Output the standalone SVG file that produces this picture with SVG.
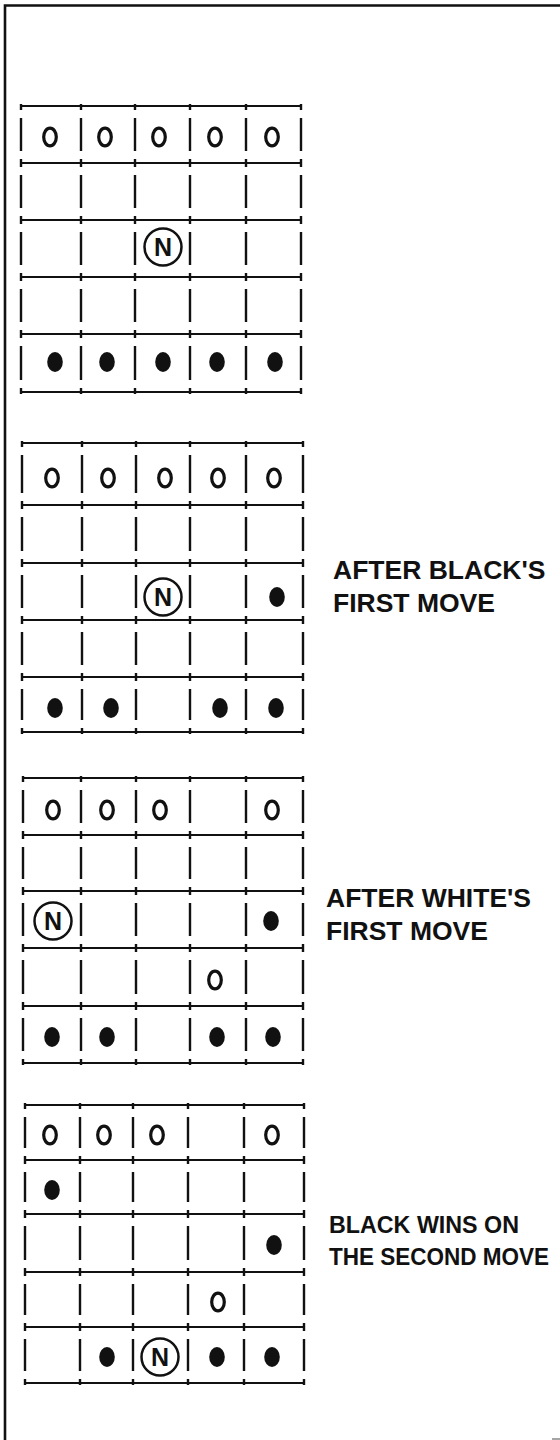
<svg xmlns="http://www.w3.org/2000/svg" xmlns:xlink="http://www.w3.org/1999/xlink" width="560" height="1440" viewBox="0 0 560 1440">
<style>
.frame{stroke:#111;stroke-width:2.6;fill:none}
.h{stroke:#111;stroke-width:2.2;fill:none}
.v{stroke:#111;stroke-width:2.4;fill:none}
.w{fill:none;stroke:#111;stroke-width:3.2}
.b{fill:#111}
.nc{fill:none;stroke:#111;stroke-width:2.5}
.nt{font-family:"Liberation Sans",Arial,sans-serif;font-weight:bold;font-size:25px;fill:#111;text-anchor:middle}
.lbl{font-family:"Liberation Sans",Arial,sans-serif;font-weight:bold;font-size:26.5px;fill:#111}
.lbl2{font-family:"Liberation Sans",Arial,sans-serif;font-weight:bold;font-size:23px;fill:#111}
</style>
<defs>
<path id="v1" class="v" d="M0 104V110M0 118V151M0 159V167M0 175V208M0 216V224M0 232V265M0 273V281M0 289V322M0 330V338M0 346V380M0 388V394"/>
<path id="v2" class="v" d="M0 441V447M0 455V493M0 501V509M0 517V551M0 559V567M0 575V608M0 616V624M0 632V665M0 673V681M0 689V720M0 728V734"/>
<path id="v3" class="v" d="M0 776V782M0 790V823M0 831V839M0 847V879M0 887V895M0 903V936M0 944V952M0 960V994M0 1002V1010M0 1018V1051M0 1059V1065"/>
<path id="v4" class="v" d="M0 1103V1109M0 1117V1148M0 1156V1164M0 1172V1202M0 1210V1218M0 1226V1260M0 1268V1276M0 1284V1315M0 1323V1331M0 1339V1371M0 1379V1385"/>
<ellipse id="wp" class="w" cx="0" cy="0" rx="6.3" ry="8.8"/>
<ellipse id="bp" class="b" cx="0" cy="0" rx="7.8" ry="10"/>
</defs>
<g id="frame">
<path class="frame" d="M5 1440V5.5H560"/>
<path d="M552 1439H560" stroke="#888" stroke-width="1.5"/>
</g>
<g id="board1">
<path class="h" d="M20 106H302M20 163H302M20 220H302M20 277H302M20 334H302M20 392H302"/>
<use xlink:href="#v1" x="21"/><use xlink:href="#v1" x="81"/><use xlink:href="#v1" x="135"/><use xlink:href="#v1" x="190"/><use xlink:href="#v1" x="246"/><use xlink:href="#v1" x="301"/>
<use xlink:href="#wp" x="50" y="137"/><use xlink:href="#wp" x="105" y="137"/><use xlink:href="#wp" x="159" y="137"/><use xlink:href="#wp" x="215" y="137"/><use xlink:href="#wp" x="272" y="137"/>
<circle class="nc" cx="163" cy="247" r="18.5"/><text class="nt" x="163" y="256">N</text>
<use xlink:href="#bp" x="55" y="362"/><use xlink:href="#bp" x="107" y="362"/><use xlink:href="#bp" x="163" y="362"/><use xlink:href="#bp" x="217" y="362"/><use xlink:href="#bp" x="275" y="362"/>
</g>
<g id="board2">
<path class="h" d="M21 443H304M21 505H304M21 563H304M21 620H304M21 677H304M21 732H304"/>
<use xlink:href="#v2" x="22"/><use xlink:href="#v2" x="82"/><use xlink:href="#v2" x="136"/><use xlink:href="#v2" x="190"/><use xlink:href="#v2" x="246"/><use xlink:href="#v2" x="303"/>
<use xlink:href="#wp" x="52" y="478"/><use xlink:href="#wp" x="108" y="478"/><use xlink:href="#wp" x="165" y="478"/><use xlink:href="#wp" x="218" y="478"/><use xlink:href="#wp" x="274" y="478"/>
<circle class="nc" cx="163" cy="597" r="18.5"/><text class="nt" x="163" y="606">N</text>
<use xlink:href="#bp" x="277" y="597"/>
<use xlink:href="#bp" x="55" y="708"/><use xlink:href="#bp" x="111" y="708"/><use xlink:href="#bp" x="220" y="708"/><use xlink:href="#bp" x="276" y="708"/>
</g>
<g id="label2">
<text class="lbl" x="333" y="579">AFTER BLACK'S</text>
<text class="lbl" x="333" y="612">FIRST MOVE</text>
</g>
<g id="board3">
<path class="h" d="M22 778H304M22 835H304M22 891H304M22 948H304M22 1006H304M22 1063H304"/>
<use xlink:href="#v3" x="23"/><use xlink:href="#v3" x="81"/><use xlink:href="#v3" x="136"/><use xlink:href="#v3" x="190"/><use xlink:href="#v3" x="246"/><use xlink:href="#v3" x="303"/>
<use xlink:href="#wp" x="53" y="810"/><use xlink:href="#wp" x="107" y="810"/><use xlink:href="#wp" x="160" y="810"/><use xlink:href="#wp" x="272" y="810"/>
<circle class="nc" cx="53" cy="921" r="18.5"/><text class="nt" x="53" y="930">N</text>
<use xlink:href="#bp" x="271" y="921"/>
<use xlink:href="#wp" x="215" y="980"/>
<use xlink:href="#bp" x="52" y="1037"/><use xlink:href="#bp" x="107" y="1037"/><use xlink:href="#bp" x="217" y="1037"/><use xlink:href="#bp" x="273" y="1037"/>
</g>
<g id="label3">
<text class="lbl" x="326" y="907">AFTER WHITE'S</text>
<text class="lbl" x="326" y="940">FIRST MOVE</text>
</g>
<g id="board4">
<path class="h" d="M24 1105H305M24 1160H305M24 1214H305M24 1272H305M24 1327H305M24 1383H305"/>
<use xlink:href="#v4" x="25"/><use xlink:href="#v4" x="80"/><use xlink:href="#v4" x="133"/><use xlink:href="#v4" x="188"/><use xlink:href="#v4" x="244"/><use xlink:href="#v4" x="304"/>
<use xlink:href="#wp" x="50" y="1135"/><use xlink:href="#wp" x="104" y="1135"/><use xlink:href="#wp" x="157" y="1135"/><use xlink:href="#wp" x="272" y="1135"/>
<use xlink:href="#bp" x="52" y="1190"/>
<use xlink:href="#bp" x="274" y="1245"/>
<use xlink:href="#wp" x="218" y="1302"/>
<use xlink:href="#bp" x="107" y="1357"/>
<circle class="nc" cx="160" cy="1357" r="18.5"/><text class="nt" x="160" y="1366">N</text>
<use xlink:href="#bp" x="217" y="1357"/><use xlink:href="#bp" x="272" y="1357"/>
</g>
<g id="label4">
<text class="lbl2" x="329" y="1233" textLength="190" lengthAdjust="spacingAndGlyphs">BLACK WINS ON</text>
<text class="lbl2" x="329" y="1265" textLength="220" lengthAdjust="spacingAndGlyphs">THE SECOND MOVE</text>
</g>
</svg>
